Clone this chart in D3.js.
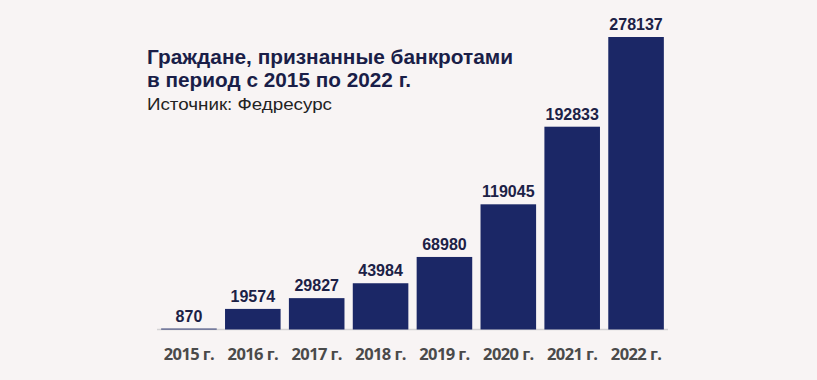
<!DOCTYPE html>
<html>
<head>
<meta charset="utf-8">
<script src="https://cdn.jsdelivr.net/npm/d3@7"></script>
<style>
	body { margin: 0; background: #f8f4f4; }
	svg { display: block; }
</style>
</head>
<body>
<svg id="chart" width="817" height="380"></svg>
<script>
// данные
const years = ["2015 г.", "2016 г.", "2017 г.", "2018 г.", "2019 г.", "2020 г.", "2021 г.", "2022 г."];
const values = [870, 19574, 29827, 43984, 68980, 119045, 192833, 278137];
const titleLines = ["Граждане, признанные банкротами", "в период с 2015 по 2022 г."];
const sourceText = "Источник: Федресурс";

const svg = d3.select("#chart");
const baseY = 329.5;

const x = d3.scaleBand()
	.domain(years)
	.range([157, 668])
	.paddingInner(0.13)
	.paddingOuter(0.065);

const y = d3.scaleLinear()
	.domain([0, d3.max(values)])
	.range([baseY, 37]);

// ось
svg.append("line")
	.attr("x1", 157)
	.attr("x2", 668)
	.attr("y1", baseY)
	.attr("y2", baseY)
	.attr("stroke", "#d4d2d4")
	.attr("stroke-width", 1.5);

const data = years.map((d, i) => ({ year: d, value: values[i] }));

svg.append("g")
	.selectAll("rect")
	.data(data)
	.join("rect")
	.attr("x", d => x(d.year))
	.attr("y", d => y(d.value))
	.attr("width", x.bandwidth())
	.attr("height", d => baseY - y(d.value))
	.attr("fill", "#1b2766");

// подписи значений
svg.append("g")
	.selectAll("text")
	.data(data)
	.join("text")
	.attr("x", d => x(d.year) + x.bandwidth() / 2)
	.attr("y", d => y(d.value) - 7)
	.attr("text-anchor", "middle")
	.attr("font-family", "Liberation Sans, Arial, sans-serif")
	.attr("font-weight", "bold")
	.attr("font-size", 16)
	.attr("fill", "#1c2146")
	.text(d => d.value);

// подписи годов
const xAxis = d3.axisBottom(x).tickSize(0).tickPadding(0);
const gx = svg.append("g")
	.attr("transform", `translate(0,${baseY})`)
	.call(xAxis);
gx.select(".domain").remove();
gx.selectAll("text")
	.attr("y", 30.5)
	.attr("dy", 0)
	.attr("font-family", "Open Sans, sans-serif")
	.attr("font-weight", "bold")
	.attr("font-size", 16.5)
	.attr("letter-spacing", -0.6)
	.attr("fill", "#4a4a4a");

// заголовок
const title = svg.append("text")
	.attr("font-family", "Liberation Sans, Arial, sans-serif")
	.attr("font-weight", "bold")
	.attr("font-size", 19.5)
	.attr("fill", "#1a1e48");
title.selectAll("tspan")
	.data(titleLines)
	.join("tspan")
	.attr("x", 147)
	.attr("y", (d, i) => 64 + i * 22.5)
	.attr("textLength", (d, i) => i === 0 ? 366 : 264)
	.attr("lengthAdjust", "spacingAndGlyphs")
	.text(d => d);

svg.append("text")
	.attr("x", 147)
	.attr("y", 110)
	.attr("font-family", "Liberation Sans, Arial, sans-serif")
	.attr("font-size", 16)
	.attr("textLength", 185)
	.attr("lengthAdjust", "spacingAndGlyphs")
	.attr("fill", "#222")
	.text(sourceText);
</script>
</body>
</html>
